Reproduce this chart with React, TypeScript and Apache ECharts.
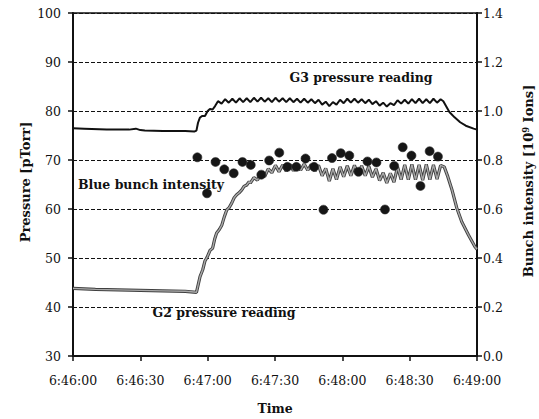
import React, { useEffect, useRef } from "react";
import * as echarts from "echarts";

// x values are seconds after 6:46:00
const timeTickLabels = ["6:46:00", "6:46:30", "6:47:00", "6:47:30", "6:48:00", "6:48:30", "6:49:00"];

const g3Times = [
  0, 5, 15, 25, 28, 30, 32, 40, 50, 54, 55, 55.7, 56.5, 57.5, 58.8, 60, 61, 62.2, 63.3,
  64.6, 66.2, 67.8, 69.4, 71.0, 72.6, 74.2, 75.8, 77.4, 79.0, 80.6, 82.2, 83.8, 85.4, 87.0, 88.6,
  90.2, 91.8, 93.4, 95.0, 96.6, 98.2, 99.8, 101.4, 103.0, 104.6, 106.2, 107.8, 109.4, 111.0,
  112.6, 114.2, 115.8, 117.4, 119.0, 120.6, 122.2, 123.8, 125.4, 127.0, 128.6, 130.2, 131.8,
  133.4, 135.0, 136.6, 138.2, 139.8, 141.4, 143.0, 144.6, 146.2, 147.8, 149.4, 151.0, 152.6,
  154.2, 155.8, 157.4, 159.0, 160.6, 162.2, 163.8, 165.0, 167.7, 170.0, 172.5, 175.0, 178.5, 180
];
const g3Pressure = [
  76.5, 76.4, 76.2, 76.2, 76.4, 76.1, 76.0, 75.9, 75.9, 75.8, 76.0, 77.6, 78.6, 79.0, 79.0, 80.0, 80.4, 80.3, 81.0,
  82.0, 81.5, 82.4, 81.7, 82.5, 81.7, 82.6, 81.8, 82.6, 81.8, 82.7, 81.9, 82.7, 81.9, 82.6, 81.8,
  82.7, 81.9, 82.6, 81.8, 82.6, 81.8, 82.5, 81.7, 82.5, 81.7, 82.4, 81.6, 82.3, 81.3,
  81.9, 81.0, 81.8, 81.3, 82.3, 81.6, 82.5, 81.7, 82.5, 81.7, 82.4, 81.6, 82.3,
  81.4, 82.0, 81.1, 81.7, 80.9, 81.6, 81.2, 82.2, 81.5, 82.3, 81.5, 82.4, 81.6,
  82.5, 81.6, 82.4, 81.6, 82.5, 81.7, 82.4, 82.0, 79.8, 78.7, 77.7, 77.0, 76.4, 76.2
];

const g2Times = [
  0, 10, 20, 30, 40, 50, 55, 56.6, 57.8, 58.8, 59.8, 61.1, 62.2, 63.2, 64.0, 65.2, 66.3, 67.4,
  68.5, 69.6, 70.7, 71.8, 72.9, 74.0, 75.2, 76.2, 77.4, 78.5, 79.0, 80.6, 82.2, 83.8, 85.4,
  87.0, 88.6, 90.2, 91.8, 93.4, 95.0, 96.6, 98.2, 99.8, 101.4, 103.0, 104.6, 106.2, 107.8,
  109.4, 111.0, 112.6, 114.2, 115.8, 117.4, 119.0, 120.6, 122.2, 123.8, 125.4, 127.0, 128.6,
  130.2, 131.8, 133.4, 135.0, 136.6, 138.2, 139.8, 141.4, 143.0, 144.6, 146.2, 147.8, 149.4,
  151.0, 152.6, 154.2, 155.8, 157.4, 159.0, 160.6, 162.2, 163.8, 165.4, 167.0, 168.8, 171.0,
  173.2, 176.2, 179.1, 180
];
const g2Pressure = [
  43.8, 43.6, 43.5, 43.4, 43.3, 43.2, 43.0, 46.2, 47.6, 49.4, 50.2, 51.6, 52.0, 54.0, 55.1, 55.8, 56.7, 58.4,
  59.8, 60.3, 61.2, 62.3, 62.9, 63.3, 63.9, 64.6, 64.9, 65.6, 65.3, 66.4, 65.9, 67.3, 66.6,
  68.2, 67.4, 68.9, 67.6, 69.0, 67.7, 69.1, 67.8, 69.2, 67.9, 69.2, 67.9, 69.1, 67.7,
  68.9, 66.8, 68.3, 65.7, 68.2, 66.0, 68.6, 66.6, 68.8, 66.8, 68.9, 66.9, 68.8,
  66.8, 68.7, 66.5, 68.2, 65.8, 67.4, 65.3, 67.3, 65.5, 68.6, 66.0, 69.0, 66.0,
  69.1, 66.0, 69.0, 65.9, 69.1, 66.0, 69.0, 66.1, 68.9, 68.6, 66.6, 64.0, 60.2,
  57.4, 54.7, 52.3, 51.8
];

const bunchTimes = [
  55.4, 59.7, 63.5, 67.4, 71.6, 75.5, 79.2, 83.9, 87.4, 91.9, 95.5, 99.5, 103.6, 107.4,
  111.6, 115.4, 119.3, 123.1, 127.2, 131.2, 135.2, 139.0, 143.1, 146.9, 150.8, 154.8, 158.9, 162.6
];
const bunchIntensity = [
  0.811, 0.664, 0.792, 0.762, 0.746, 0.792, 0.780, 0.740, 0.798, 0.830, 0.772, 0.772, 0.806, 0.772,
  0.597, 0.808, 0.828, 0.818, 0.752, 0.794, 0.790, 0.598, 0.776, 0.852, 0.818, 0.694, 0.836, 0.814
];

const zip = (xs: number[], ys: number[]) => xs.map((x, i) => [x, ys[i]]);

const SERIF = '"DejaVu Serif", "Liberation Serif", serif';
const INK = "#111111";

export default function App() {
  const ref = useRef<HTMLDivElement>(null);

  useEffect(() => {
    if (!ref.current) return;
    const chart = echarts.init(ref.current, undefined, { renderer: "svg" });
    const tickLabel = { fontFamily: SERIF, fontSize: 12.5, color: INK };
    chart.setOption({
      animation: false,
      backgroundColor: "#fff",
      grid: {
        left: 73,
        right: 62,
        top: 13,
        bottom: 63,
        show: true,
        borderColor: INK,
        borderWidth: 1.5,
        backgroundColor: "transparent",
      },
      xAxis: {
        type: "value",
        min: 0,
        max: 180,
        interval: 30,
        axisLine: { show: true, lineStyle: { color: INK, width: 2 } },
        axisTick: { show: true, inside: false, length: 5, lineStyle: { color: INK, width: 1.5 } },
        axisLabel: {
          ...tickLabel,
          margin: 18,
          formatter: (v: number) => timeTickLabels[Math.round(v / 30)] ?? "",
        },
        splitLine: { show: false },
      },
      yAxis: [
        {
          type: "value",
          min: 30,
          max: 100,
          interval: 10,
          position: "left",
          axisLine: { show: true, lineStyle: { color: INK, width: 2 } },
          axisTick: { show: true, length: 5, lineStyle: { color: INK, width: 1.5 } },
          axisLabel: { ...tickLabel, margin: 12 },
          splitLine: { show: true, lineStyle: { color: INK, width: 1, type: [4, 2] } },
        },
        {
          type: "value",
          min: 0,
          max: 1.4,
          interval: 0.2,
          position: "right",
          axisLine: { show: true, lineStyle: { color: INK, width: 2 } },
          axisTick: { show: true, length: 5, lineStyle: { color: INK, width: 1.5 } },
          axisLabel: { ...tickLabel, margin: 6, formatter: (v: number) => v.toFixed(1) },
          splitLine: { show: false },
        },
      ],
      series: [
        {
          type: "line",
          name: "G2 pressure reading outline",
          data: zip(g2Times, g2Pressure),
          yAxisIndex: 0,
          symbol: "none",
          silent: true,
          lineStyle: { color: "#404040", width: 3.2 },
          z: 2,
        },
        {
          type: "line",
          name: "G2 pressure reading",
          data: zip(g2Times, g2Pressure),
          yAxisIndex: 0,
          symbol: "none",
          silent: true,
          lineStyle: { color: "#a9a9a9", width: 1.4 },
          z: 3,
        },
        {
          type: "line",
          name: "G3 pressure reading",
          data: zip(g3Times, g3Pressure),
          yAxisIndex: 0,
          symbol: "none",
          silent: true,
          lineStyle: { color: INK, width: 2 },
          z: 3,
        },
        {
          type: "scatter",
          name: "Blue bunch intensity",
          data: zip(bunchTimes, bunchIntensity),
          yAxisIndex: 1,
          symbol: "circle",
          symbolSize: 9,
          silent: true,
          itemStyle: { color: "#161616", borderColor: "#2a2a2a", borderWidth: 0.6, opacity: 1 },
          z: 5,
        },
      ],
      graphic: [
        {
          type: "text",
          x: 361,
          y: 77,
          style: {
            text: "G3 pressure reading",
            fontFamily: SERIF, fontSize: 12.5, fontWeight: "bold",
            fill: INK, align: "center", verticalAlign: "middle",
          },
        },
        {
          type: "text",
          x: 151,
          y: 184,
          style: {
            text: "Blue bunch intensity",
            fontFamily: SERIF, fontSize: 12.5, fontWeight: "bold",
            fill: INK, align: "center", verticalAlign: "middle",
          },
        },
        {
          type: "text",
          x: 224,
          y: 312,
          style: {
            text: "G2 pressure reading",
            fontFamily: SERIF, fontSize: 12.5, fontWeight: "bold",
            fill: INK, align: "center", verticalAlign: "middle",
            backgroundColor: "#fff", padding: [2, 5],
          },
        },
        {
          type: "text",
          x: 275,
          y: 408,
          style: {
            text: "Time",
            fontFamily: SERIF, fontSize: 12.5, fontWeight: "bold",
            fill: INK, align: "center", verticalAlign: "middle",
          },
        },
        {
          type: "text",
          x: 25,
          y: 182,
          rotation: Math.PI / 2,
          style: {
            text: "Pressure [pTorr]",
            fontFamily: SERIF, fontSize: 13, fontWeight: "bold",
            fill: INK, align: "center", verticalAlign: "middle",
          },
        },
        {
          type: "text",
          x: 528,
          y: 181,
          rotation: Math.PI / 2,
          style: {
            text: "Bunch intensity [10{sup|9} Ions]",
            fontFamily: SERIF, fontSize: 13, fontWeight: "bold",
            fill: INK, align: "center", verticalAlign: "middle",
            rich: {
              sup: {
                fontFamily: SERIF, fontSize: 8.5, fontWeight: "bold",
                fill: INK, verticalAlign: "top",
              },
            },
          },
        },
      ],
    });
    return () => chart.dispose();
  }, []);

  return (
    <div
      ref={ref}
      style={{ position: "fixed", left: 0, top: 0, width: 539, height: 419, background: "#fff" }}
    />
  );
}
